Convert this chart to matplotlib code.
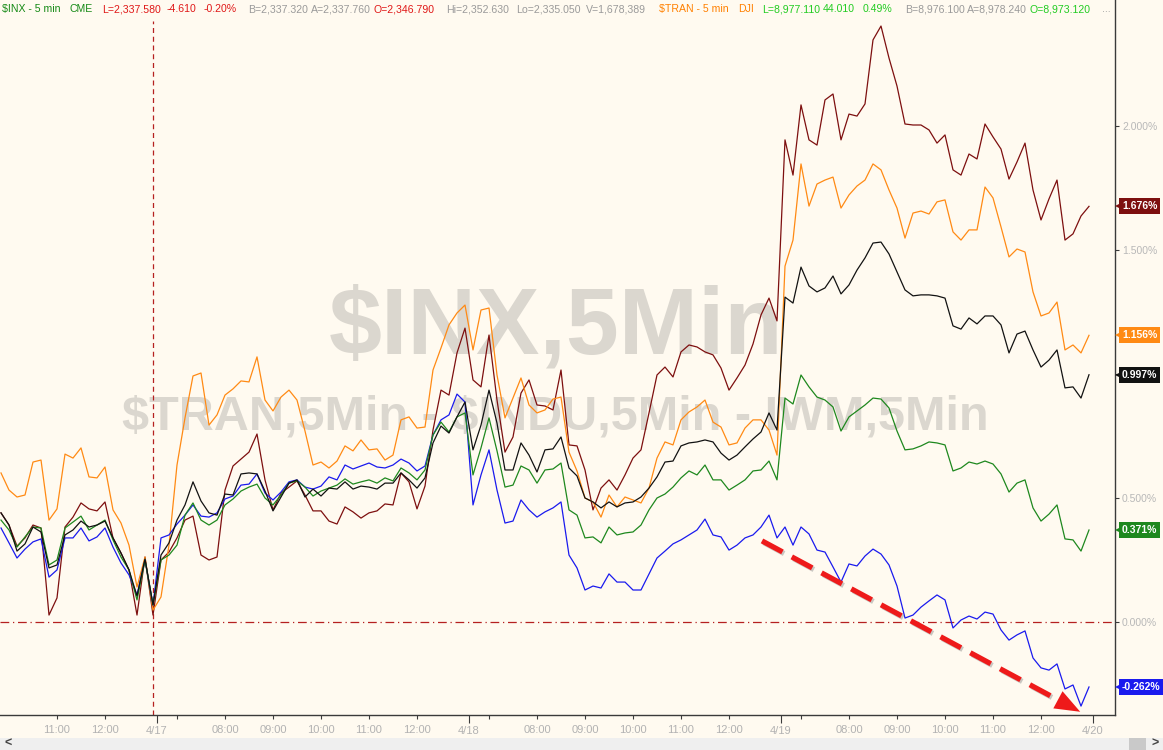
import numpy as np
import matplotlib
matplotlib.use("Agg")
import matplotlib.pyplot as plt
import matplotlib.transforms as mtransforms
import matplotlib.patheffects as pe
from matplotlib.patches import Rectangle

plt.rcParams['font.family'] = ['Liberation Sans', 'DejaVu Sans']

# ---------------- data: % change, one sample every 10 minutes ----------------
# first sample 4/13 09:50 (PT), last sample 4/19 13:00 (PT); sessions 06:30-13:00
series_maroon = [0.440, 0.391, 0.306, 0.339, 0.391, 0.379, 0.028, 0.097, 0.383, 0.423,
                 0.480, 0.456, 0.448, 0.484, 0.339, 0.278, 0.210, 0.028, 0.262, 0.028,
                 0.250, 0.282, 0.339, 0.411, 0.427, 0.270, 0.250, 0.262, 0.532, 0.629,
                 0.657, 0.685, 0.758, 0.573, 0.452, 0.520, 0.544, 0.569, 0.512, 0.448,
                 0.448, 0.407, 0.395, 0.464, 0.444, 0.419, 0.440, 0.448, 0.476, 0.472,
                 0.601, 0.565, 0.456, 0.548, 0.774, 0.935, 0.915, 1.085, 1.185, 0.976,
                 0.948, 1.157, 0.895, 0.685, 0.746, 0.923, 0.976, 0.875, 0.871, 0.855,
                 1.016, 0.714, 0.710, 0.613, 0.452, 0.540, 0.573, 0.532, 0.593, 0.661,
                 0.694, 0.843, 0.996, 1.028, 0.988, 1.089, 1.117, 1.109, 1.089, 1.077,
                 1.024, 0.935, 0.984, 1.036, 1.121, 1.238, 1.306, 1.214, 1.944, 1.802,
                 2.085, 1.944, 1.923, 2.105, 2.129, 1.944, 2.048, 2.040, 2.089, 2.347,
                 2.403, 2.274, 2.161, 2.008, 2.004, 2.004, 1.984, 1.931, 1.964, 1.823,
                 1.802, 1.887, 1.867, 2.008, 1.956, 1.907, 1.786, 1.855, 1.931, 1.742,
                 1.621, 1.706, 1.782, 1.540, 1.565, 1.637, 1.676]

series_orange = [0.601, 0.532, 0.504, 0.512, 0.645, 0.653, 0.411, 0.456, 0.677, 0.661,
                 0.702, 0.585, 0.581, 0.625, 0.452, 0.399, 0.310, 0.141, 0.262, 0.048,
                 0.101, 0.310, 0.633, 0.823, 0.992, 1.004, 0.794, 0.835, 0.915, 0.940,
                 0.972, 0.968, 1.069, 0.895, 0.851, 0.907, 0.935, 0.895, 0.770, 0.633,
                 0.645, 0.621, 0.649, 0.710, 0.690, 0.734, 0.694, 0.698, 0.653, 0.673,
                 0.815, 0.827, 0.782, 0.786, 1.016, 1.105, 1.198, 1.246, 1.278, 1.097,
                 1.258, 1.266, 0.996, 0.823, 0.903, 0.984, 0.875, 0.843, 0.855, 0.899,
                 0.907, 0.685, 0.609, 0.500, 0.484, 0.423, 0.512, 0.464, 0.504, 0.492,
                 0.480, 0.540, 0.661, 0.726, 0.714, 0.815, 0.847, 0.867, 0.895, 0.806,
                 0.786, 0.714, 0.722, 0.782, 0.815, 0.815, 0.774, 0.673, 1.435, 1.540,
                 1.847, 1.677, 1.766, 1.782, 1.794, 1.669, 1.722, 1.758, 1.782, 1.847,
                 1.823, 1.742, 1.669, 1.548, 1.649, 1.657, 1.645, 1.694, 1.702, 1.573,
                 1.540, 1.581, 1.581, 1.754, 1.710, 1.593, 1.472, 1.504, 1.492, 1.331,
                 1.234, 1.246, 1.290, 1.097, 1.117, 1.085, 1.156]

series_black = [0.440, 0.391, 0.286, 0.315, 0.383, 0.363, 0.218, 0.230, 0.351, 0.371,
                0.407, 0.383, 0.391, 0.407, 0.339, 0.278, 0.210, 0.105, 0.254, 0.069,
                0.270, 0.319, 0.411, 0.472, 0.565, 0.488, 0.440, 0.431, 0.516, 0.512,
                0.597, 0.601, 0.597, 0.528, 0.448, 0.504, 0.560, 0.573, 0.504, 0.536,
                0.508, 0.540, 0.536, 0.565, 0.536, 0.548, 0.544, 0.536, 0.560, 0.560,
                0.601, 0.573, 0.540, 0.581, 0.722, 0.790, 0.762, 0.827, 0.887, 0.694,
                0.794, 0.935, 0.802, 0.613, 0.613, 0.722, 0.673, 0.605, 0.694, 0.698,
                0.746, 0.621, 0.589, 0.500, 0.484, 0.460, 0.484, 0.464, 0.480, 0.484,
                0.504, 0.540, 0.585, 0.645, 0.649, 0.710, 0.722, 0.726, 0.734, 0.726,
                0.681, 0.653, 0.673, 0.706, 0.738, 0.766, 0.843, 0.774, 1.310, 1.286,
                1.431, 1.355, 1.331, 1.347, 1.395, 1.323, 1.359, 1.419, 1.468, 1.528,
                1.532, 1.484, 1.411, 1.339, 1.315, 1.319, 1.319, 1.315, 1.306, 1.194,
                1.181, 1.226, 1.202, 1.234, 1.234, 1.198, 1.085, 1.161, 1.173, 1.097,
                1.028, 1.056, 1.097, 0.944, 0.948, 0.903, 0.997]

series_green = [0.411, 0.371, 0.302, 0.343, 0.383, 0.379, 0.230, 0.250, 0.379, 0.403,
                0.427, 0.371, 0.391, 0.411, 0.331, 0.262, 0.210, 0.089, 0.250, 0.069,
                0.250, 0.270, 0.310, 0.431, 0.480, 0.411, 0.391, 0.411, 0.472, 0.496,
                0.528, 0.544, 0.556, 0.500, 0.472, 0.512, 0.560, 0.569, 0.544, 0.508,
                0.528, 0.540, 0.552, 0.577, 0.556, 0.565, 0.573, 0.560, 0.581, 0.569,
                0.621, 0.601, 0.573, 0.613, 0.754, 0.806, 0.766, 0.827, 0.843, 0.593,
                0.702, 0.823, 0.690, 0.544, 0.552, 0.629, 0.613, 0.560, 0.613, 0.617,
                0.641, 0.452, 0.431, 0.339, 0.343, 0.319, 0.383, 0.351, 0.359, 0.363,
                0.391, 0.452, 0.500, 0.516, 0.544, 0.581, 0.609, 0.593, 0.633, 0.573,
                0.573, 0.532, 0.552, 0.573, 0.609, 0.613, 0.649, 0.573, 0.903, 0.879,
                0.996, 0.948, 0.907, 0.895, 0.867, 0.770, 0.827, 0.851, 0.875, 0.903,
                0.899, 0.863, 0.770, 0.694, 0.698, 0.710, 0.726, 0.722, 0.714, 0.609,
                0.621, 0.645, 0.637, 0.649, 0.637, 0.597, 0.524, 0.560, 0.573, 0.460,
                0.407, 0.435, 0.472, 0.335, 0.331, 0.286, 0.371]

series_blue = [0.379, 0.319, 0.258, 0.294, 0.323, 0.335, 0.181, 0.210, 0.339, 0.339,
               0.379, 0.327, 0.343, 0.379, 0.302, 0.238, 0.190, 0.109, 0.250, 0.069,
               0.339, 0.351, 0.395, 0.431, 0.472, 0.427, 0.423, 0.440, 0.496, 0.508,
               0.552, 0.556, 0.597, 0.520, 0.492, 0.524, 0.565, 0.573, 0.544, 0.536,
               0.548, 0.585, 0.573, 0.633, 0.617, 0.629, 0.641, 0.625, 0.621, 0.633,
               0.657, 0.641, 0.609, 0.629, 0.754, 0.815, 0.835, 0.919, 0.887, 0.472,
               0.593, 0.694, 0.532, 0.399, 0.407, 0.492, 0.452, 0.423, 0.444, 0.460,
               0.484, 0.270, 0.218, 0.129, 0.145, 0.137, 0.194, 0.161, 0.161, 0.129,
               0.129, 0.194, 0.258, 0.286, 0.315, 0.331, 0.351, 0.371, 0.415, 0.351,
               0.343, 0.290, 0.310, 0.339, 0.351, 0.383, 0.431, 0.339, 0.383, 0.310,
               0.383, 0.355, 0.290, 0.282, 0.222, 0.161, 0.234, 0.226, 0.266, 0.294,
               0.274, 0.230, 0.145, 0.016, 0.028, 0.060, 0.085, 0.109, 0.089, -0.024,
               0.008, 0.024, 0.012, 0.040, 0.032, -0.032, -0.073, -0.052, -0.036, -0.145,
               -0.185, -0.194, -0.169, -0.270, -0.254, -0.339, -0.262]

day_labels = ['4/17', '4/18', '4/19', '4/20']
first_day_hours = ['11:00', '12:00']
session_hours = ['08:00', '09:00', '10:00', '11:00', '12:00']
y_ticks = [0.0, 0.5, 1.0, 1.5, 2.0]

watermark_main = '$INX,5Min'
watermark_sub = '$TRAN,5Min - $INDU,5Min - IWM,5Min'

header_items = [
    ('$INX - 5 min', 'g1'), ('CME', 'g1'), ('L=2,337.580', 'r'), ('-4.610', 'r'),
    ('-0.20%', 'r'), ('B=2,337.320', 'k'), ('A=2,337.760', 'k'), ('O=2,346.790', 'r'),
    ('Hi=2,352.630', 'k'), ('Lo=2,335.050', 'k'), ('V=1,678,389', 'k'),
    ('$TRAN - 5 min', 'o'), ('DJI', 'o'), ('L=8,977.110', 'g2'), ('44.010', 'g2'),
    ('0.49%', 'g2'), ('B=8,976.100', 'k'), ('A=8,978.240', 'k'), ('O=8,973.120', 'g2'),
    ('...', 'k')]
header_x_px = [2, 69, 102, 167, 204, 248, 311, 374, 446, 516, 586,
               659, 738, 762, 823, 863, 905, 967, 1030, 1102]

# ---------------- time axis helpers ----------------
BAR_MIN = 5
FIRST_MIN = 9 * 60 + 50
OPEN_MIN, CLOSE_MIN = 6 * 60 + 30, 13 * 60
SESSION_BARS = (CLOSE_MIN - OPEN_MIN) // BAR_MIN
FIRST_CLOSE = (CLOSE_MIN - FIRST_MIN) // BAR_MIN


def bar_of(day_idx, hhmm):
    h, m = map(int, hhmm.split(':'))
    mins = h * 60 + m
    if day_idx == 0:
        return (mins - FIRST_MIN) / BAR_MIN
    return FIRST_CLOSE + (day_idx - 1) * SESSION_BARS + (mins - OPEN_MIN) / BAR_MIN


n = len(series_blue)
t = np.arange(n) * 2  # 10-minute samples in 5-minute bar units

# ---------------- style ----------------
W, H = 1163, 750
BG = '#fffaf0'
WM = '#dbd7cf'
colors = {'maroon': '#7d0f0f', 'orange': '#ff8a14', 'black': '#121212',
          'green': '#1e881e', 'blue': '#1a1aee'}
hdr_colors = {'g1': '#168a16', 'r': '#e01818', 'k': '#9a9a9a', 'o': '#ff8000', 'g2': '#22cc22'}

fig = plt.figure(figsize=(W / 100, H / 100), dpi=100, facecolor=BG)
ax = fig.add_axes([0, 35 / H, 1115 / W, 715 / H])
ax.set_facecolor(BG)

ax.set_xlim(-0.25, 278.5)
ax.set_ylim(-0.375, 2.508)

# watermark
ax.text(0.4987, 1 - 353 / 715, watermark_main, transform=ax.transAxes, ha='center',
        va='baseline', fontsize=68.5, fontweight='bold', color=WM, zorder=0, parse_math=False)
ax.text(0.4977, 1 - 430 / 715, watermark_sub, transform=ax.transAxes, ha='center',
        va='baseline', fontsize=35, fontweight='bold', color=WM, zorder=0, parse_math=False)

# reference lines
ax.axhline(0, color='#b52020', lw=0.9, linestyle=(0, (7, 3, 1, 3)), zorder=1)
ax.axvline(bar_of(1, '06:30'), ymin=0, ymax=1 - 21 / 715, color='#b52020', lw=0.9,
           linestyle=(0, (4, 3)), zorder=1)

# series
order = [('maroon', series_maroon), ('orange', series_orange), ('blue', series_blue),
         ('green', series_green), ('black', series_black)]
for name, vals in order:
    ax.plot(t, vals, color=colors[name], lw=0.9, zorder=3)

# red trend arrow (annotation)
arrow_start = (190.25, 0.327)
arrow_end = (269.8, -0.362)


def along(f):
    return (arrow_start[0] + f * (arrow_end[0] - arrow_start[0]),
            arrow_start[1] + f * (arrow_end[1] - arrow_start[1]))


shadow = [pe.SimpleLineShadow(offset=(1.2, -1.2), shadow_color='#888888', alpha=0.45), pe.Normal()]
shaft_end = along(0.93)
ax.plot([arrow_start[0], shaft_end[0]], [arrow_start[1], shaft_end[1]], color='#ee1a1a',
        lw=3.8, dashes=(4.4, 2.0), dash_capstyle='butt', zorder=6, path_effects=shadow)
head = ax.annotate('', xy=arrow_end, xytext=along(0.86), annotation_clip=False,
                   arrowprops=dict(arrowstyle='-|>,head_length=1.3,head_width=0.5',
                                   fc='#ee1a1a', ec='#ee1a1a', lw=0, shrinkA=0, shrinkB=0,
                                   mutation_scale=14), zorder=6)
head.arrow_patch.set_clip_on(False)

# spines
for s in ['left', 'top']:
    ax.spines[s].set_visible(False)
for s in ['bottom', 'right']:
    ax.spines[s].set_color('#3a3a3a')
    ax.spines[s].set_linewidth(1.0)

# x ticks
hour_pos = [bar_of(0, h) for h in first_day_hours]
hour_lab = list(first_day_hours)
for d in range(1, 4):
    hour_pos += [bar_of(d, '07:00')] + [bar_of(d, h) for h in session_hours]
    hour_lab += [''] + session_hours
day_pos = [bar_of(d, '06:35') for d in range(1, 5)]
ax.set_xticks(hour_pos, hour_lab)
ax.set_xticks(day_pos, day_labels, minor=True)
ax.tick_params(axis='x', which='major', direction='out', length=3, width=0.8, color='#3a3a3a',
               labelsize=8, labelcolor='#b2b2b2', pad=4.2)
ax.tick_params(axis='x', which='minor', direction='out', length=6, width=0.8, color='#3a3a3a',
               labelsize=8, labelcolor='#b2b2b2', pad=2.0)

# y ticks on right
ax.yaxis.tick_right()
ax.set_yticks(y_ticks, [f'{v:.3f}%' for v in y_ticks])
ax.tick_params(axis='y', which='both', direction='out', length=3, width=0.8, color='#3a3a3a',
               labelsize=7.5, labelcolor='#b8b8b8', pad=2, left=False, right=True)

# value badges
blend = mtransforms.blended_transform_factory(ax.transAxes, ax.transData)
tri_tr = mtransforms.offset_copy(blend, fig=fig, x=3.5, y=0, units='dots')
for name, vals in order:
    v = vals[-1]
    col = colors[name]
    ax.plot([1.0], [v], marker='<', ms=5.5, mew=0, color=col, transform=tri_tr,
            clip_on=False, zorder=9)
    ax.annotate(f'{v:.3f}%', xy=(1, v), xycoords=blend, xytext=(5.0, 0),
                textcoords='offset points', ha='left', va='center', fontsize=7.5,
                fontweight='bold', color='white', annotation_clip=False, zorder=10,
                bbox=dict(boxstyle='square,pad=0.28', fc=col, ec='none'))

# header line
for (txt, ck), xp in zip(header_items, header_x_px):
    fig.text(xp / W, 1 - 9 / H, txt, color=hdr_colors[ck], fontsize=7.6, ha='left',
             va='center', parse_math=False)

# scrollbar strip at bottom
fig.patches.append(Rectangle((0, 0), 1, 12 / H, transform=fig.transFigure,
                             fc='#efefef', ec='none', zorder=0))
fig.patches.append(Rectangle((1129 / W, 0), 17 / W, 12 / H, transform=fig.transFigure,
                             fc='#c9c9c9', ec='none', zorder=1))
fig.text(8 / W, 6 / H, '<', fontsize=9, fontweight='bold', color='#444444', ha='center', va='center')
fig.text(1155 / W, 6 / H, '>', fontsize=9, fontweight='bold', color='#444444', ha='center', va='center')

fig.savefig('out.png', dpi=100, facecolor=BG)
